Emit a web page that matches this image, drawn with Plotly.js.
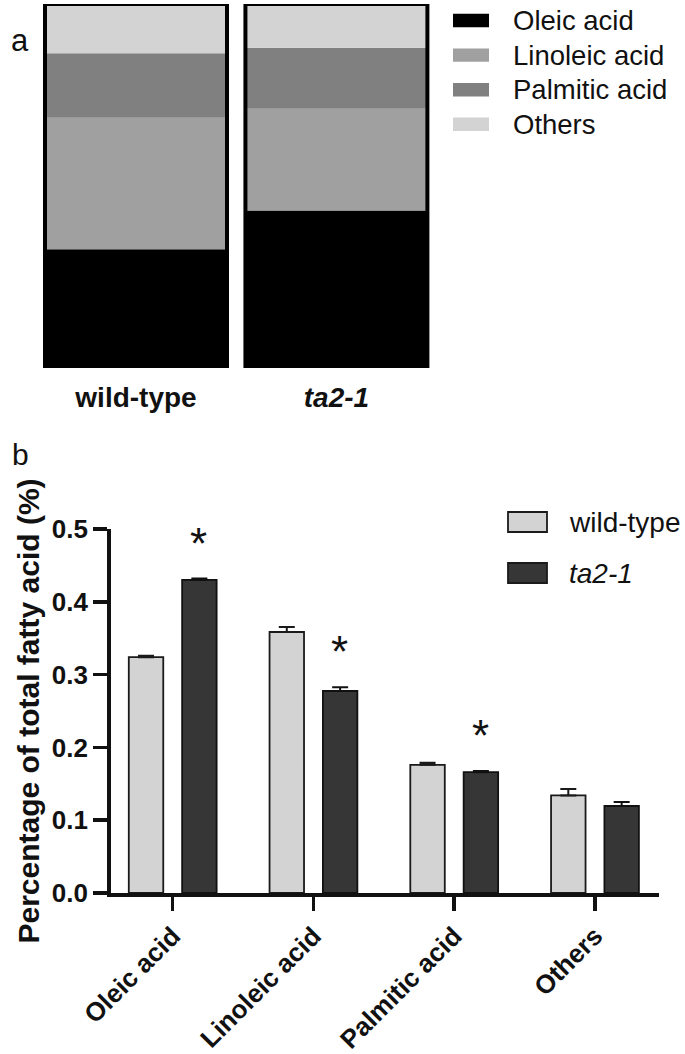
<!DOCTYPE html>
<html><head><meta charset="utf-8">
<script src="https://cdn.plot.ly/plotly-3.0.1.min.js"></script>
<style>html,body{margin:0;padding:0;background:#fff}#chart{width:685px;height:1054px}</style>
</head><body><div id="chart"></div>
<script>
// ---- data ----
const acids = ['Oleic acid', 'Linoleic acid', 'Palmitic acid', 'Others'];
const genotypes = ['wild-type', 'ta2-1'];
const genotypeLabels = ['<b>wild-type</b>', '<b><i>ta2-1</i></b>'];
const wildTypeMean = [0.324, 0.3585, 0.176, 0.134];
const wildTypeErr = [0.002, 0.007, 0.003, 0.009];
const ta21Mean = [0.430, 0.2775, 0.166, 0.1195];
const ta21Err = [0.002, 0.005, 0.0015, 0.0055];
const significant = [true, true, true, false];
const yTickVals = [0, 0.1, 0.2, 0.3, 0.4, 0.5];
const acidColors = ['#000000', '#a0a0a0', '#808080', '#d3d3d3'];
const genotypeColors = ['#d3d3d3', '#363636'];

const FONT = 'Liberation Sans, Arial, Helvetica, sans-serif';
const W = 685, H = 1054;
const px = x => x / W;
const py = y => 1 - y / H;

// ---- panel a: 100% stacked composition ----
const sumW = wildTypeMean.reduce((a, b) => a + b, 0);
const sumT = ta21Mean.reduce((a, b) => a + b, 0);
const fracW = wildTypeMean.map(v => v / sumW);
const fracT = ta21Mean.map(v => v / sumT);
const traces = [];
let baseW = 0, baseT = 0;
acids.forEach((name, i) => {
  traces.push({
    type: 'bar', x: genotypes, y: [fracW[i], fracT[i]], base: [baseW, baseT],
    xaxis: 'x', yaxis: 'y', width: 0.908, name: name,
    marker: {color: acidColors[i], line: {width: 0}}, hoverinfo: 'skip', showlegend: false
  });
  baseW += fracW[i]; baseT += fracT[i];
});
// outline around whole stacked bar
traces.push({
  type: 'bar', x: genotypes, y: [baseW, baseT], base: [0, 0], xaxis: 'x', yaxis: 'y', width: 0.908,
  marker: {color: 'rgba(0,0,0,0)', line: {color: '#000', width: 4}}, cliponaxis: false,
  hoverinfo: 'skip', showlegend: false
});

// ---- panel b: grouped bars with error bars ----
traces.push({
  type: 'bar', x: acids, y: wildTypeMean, xaxis: 'x2', yaxis: 'y2', width: 0.245, offset: -0.312,
  name: 'wild-type', marker: {color: genotypeColors[0], line: {color: '#1a1a1a', width: 1.8}},
  error_y: {type: 'data', symmetric: false, array: wildTypeErr, arrayminus: wildTypeErr.map(() => 0),
            color: '#1a1a1a', thickness: 2, width: 8},
  showlegend: false
});
traces.push({
  type: 'bar', x: acids, y: ta21Mean, xaxis: 'x2', yaxis: 'y2', width: 0.245, offset: 0.067,
  name: 'ta2-1', marker: {color: genotypeColors[1], line: {color: '#111', width: 1.8}},
  error_y: {type: 'data', symmetric: false, array: ta21Err, arrayminus: ta21Err.map(() => 0),
            color: '#111', thickness: 2, width: 8},
  showlegend: false
});

// ---- annotations & legend swatches ----
const annotations = [
  {text: 'a', x: px(9), y: py(21), xref: 'paper', yref: 'paper', showarrow: false,
   font: {family: FONT, size: 31, color: '#111'}},
  {text: 'b', x: px(10), y: py(455), xref: 'paper', yref: 'paper', showarrow: false,
   font: {family: FONT, size: 30, color: '#111'}}
];
const shapes = [];
acids.forEach((name, i) => {
  const cy = 20.5 + i * 34.6;
  shapes.push({type: 'rect', xref: 'paper', yref: 'paper', x0: px(453), x1: px(489),
    y0: py(cy - 6.7), y1: py(cy + 6.7), fillcolor: acidColors[i], line: {width: 0}});
  annotations.push({text: name, x: px(511), y: py(cy), xref: 'paper', yref: 'paper',
    xanchor: 'left', yanchor: 'middle', showarrow: false, font: {family: FONT, size: 27.5, color: '#111'}});
});
const legB = ['wild-type', '<i>ta2-1</i>'];
legB.forEach((t, i) => {
  const cy = 522 + i * 51;
  shapes.push({type: 'rect', xref: 'paper', yref: 'paper', x0: px(508), x1: px(547),
    y0: py(cy - 10), y1: py(cy + 10), fillcolor: genotypeColors[i], line: {color: '#1a1a1a', width: 1.8}});
  annotations.push({text: t, x: px(567), y: py(cy), xref: 'paper', yref: 'paper',
    xanchor: 'left', yanchor: 'middle', showarrow: false, font: {family: FONT, size: 28, color: '#111'}});
});
acids.forEach((name, i) => {
  if (!significant[i]) return;
  annotations.push({text: '*', x: name, y: ta21Mean[i] + ta21Err[i], xref: 'x2', yref: 'y2',
    xshift: 26, yshift: 9, yanchor: 'bottom', showarrow: false,
    font: {family: FONT, size: 44, color: '#111'}});
});

const layout = {
  width: W, height: H, margin: {l: 0, r: 0, t: 0, b: 0},
  paper_bgcolor: '#fff', plot_bgcolor: 'rgba(0,0,0,0)',
  barmode: 'overlay', showlegend: false,
  font: {family: FONT, color: '#111'},
  xaxis: {domain: [0.05226, 0.6374], range: [-0.5, 1.5], anchor: 'y', type: 'category',
    tickvals: genotypes, ticktext: genotypeLabels, ticks: '', showline: false, showgrid: false,
    zeroline: false, tickfont: {family: FONT, size: 28, color: '#111'}, ticklabelstandoff: 10, fixedrange: true},
  yaxis: {domain: [0.65085, 0.9962], range: [0, 1], anchor: 'x', visible: false, fixedrange: true},
  xaxis2: {domain: [0.1616, 0.9620], range: [-0.4405, 3.4546], anchor: 'y2', type: 'category',
    showline: true, linewidth: 3.5, linecolor: '#111', ticks: 'outside', ticklen: 14, tickwidth: 3.5,
    tickcolor: '#111', tickangle: -45, showgrid: false, zeroline: false,
    tickfont: {family: FONT, size: 26, color: '#111', weight: 'bold'}, automargin: false, fixedrange: true},
  yaxis2: {domain: [0.15275, 0.4981], range: [0, 0.5], anchor: 'x2', tickvals: yTickVals,
    tickformat: '.1f', showline: true, linewidth: 3.5, linecolor: '#111', ticks: 'outside', ticklen: 14,
    tickwidth: 3.5, tickcolor: '#111', showgrid: false, zeroline: false,
    tickfont: {family: FONT, size: 26, color: '#111', weight: 'bold'},
    title: {text: 'Percentage of total fatty acid (%)', standoff: 4,
            font: {family: FONT, size: 30, color: '#111', weight: 'bold'}},
    automargin: false, fixedrange: true},
  annotations: annotations, shapes: shapes
};

Plotly.newPlot('chart', traces, layout, {displayModeBar: false, staticPlot: true});
</script>
</body></html>
